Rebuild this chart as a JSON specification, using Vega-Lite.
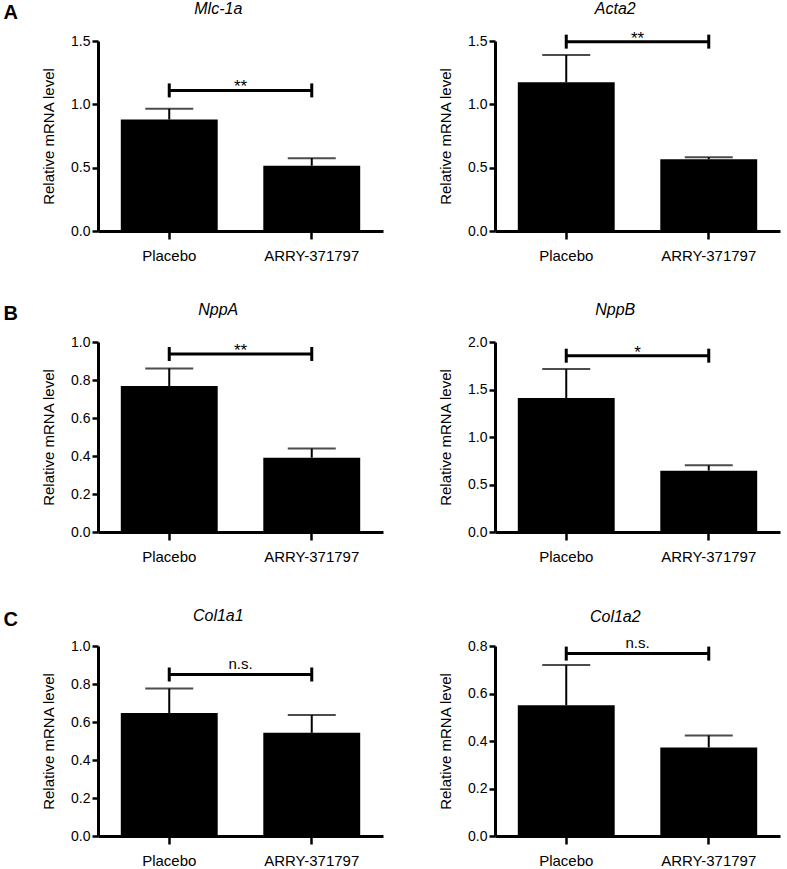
{
  "$schema": "https://vega.github.io/schema/vega-lite/v6.json",
  "background": "white",
  "padding": {"left": 3, "top": 0, "right": 5, "bottom": 0},
  "datasets": {
    "bars": [
      {"gene": "Mlc-1a", "group": "Placebo", "mean": 0.88, "upper": 0.965, "sig": 1.11, "label": "**"},
      {"gene": "Mlc-1a", "group": "ARRY-371797", "mean": 0.515, "upper": 0.575, "sig": 1.11, "label": "**"},
      {"gene": "Acta2", "group": "Placebo", "mean": 1.174, "upper": 1.389, "sig": 1.495, "label": "**"},
      {"gene": "Acta2", "group": "ARRY-371797", "mean": 0.566, "upper": 0.582, "sig": 1.495, "label": "**"},
      {"gene": "NppA", "group": "Placebo", "mean": 0.768, "upper": 0.861, "sig": 0.937, "label": "**"},
      {"gene": "NppA", "group": "ARRY-371797", "mean": 0.391, "upper": 0.439, "sig": 0.937, "label": "**"},
      {"gene": "NppB", "group": "Placebo", "mean": 1.411, "upper": 1.716, "sig": 1.856, "label": "*"},
      {"gene": "NppB", "group": "ARRY-371797", "mean": 0.646, "upper": 0.702, "sig": 1.856, "label": "*"},
      {"gene": "Col1a1", "group": "Placebo", "mean": 0.647, "upper": 0.776, "sig": 0.85, "label": "n.s."},
      {"gene": "Col1a1", "group": "ARRY-371797", "mean": 0.543, "upper": 0.637, "sig": 0.85, "label": "n.s."},
      {"gene": "Col1a2", "group": "Placebo", "mean": 0.551, "upper": 0.72, "sig": 0.768, "label": "n.s."},
      {"gene": "Col1a2", "group": "ARRY-371797", "mean": 0.373, "upper": 0.423, "sig": 0.768, "label": "n.s."}
    ]
  },
  "spacing": 39,
  "vconcat": [
    {
      "title": {"text": "A", "anchor": "start", "frame": "bounds", "fontSize": 20, "fontWeight": "bold", "fontStyle": "normal", "dx": -38, "offset": -22},
      "hconcat": [
        {
          "width": 285, "height": 190,
          "title": {"text": "Mlc-1a", "offset": 17},
          "data": {"name": "bars"},
          "transform": [{"filter": "datum.gene === 'Mlc-1a'"}],
          "layer": [
            {"mark": {"type": "rule", "strokeWidth": 2, "color": "black"},
             "encoding": {"x": {"field": "group", "type": "nominal", "sort": ["Placebo", "ARRY-371797"], "scale": {"paddingInner": 0.32, "paddingOuter": 0.16}, "title": null},
                          "y": {"field": "mean", "type": "quantitative", "title": "Relative mRNA level", "scale": {"domain": [0, 1.5], "nice": false}, "axis": {"values": [0, 0.5, 1, 1.5], "format": ".1f", "labelOverlap": false}},
                          "y2": {"field": "upper"}}},
            {"mark": {"type": "tick", "thickness": 2, "size": 48, "color": "black"},
             "encoding": {"x": {"field": "group", "type": "nominal", "sort": ["Placebo", "ARRY-371797"], "title": null},
                          "y": {"field": "upper", "type": "quantitative", "title": "Relative mRNA level"}}},
            {"mark": {"type": "bar", "color": "black"},
             "encoding": {"x": {"field": "group", "type": "nominal", "sort": ["Placebo", "ARRY-371797"], "title": null},
                          "y": {"field": "mean", "type": "quantitative", "title": "Relative mRNA level"}}},
            {"mark": {"type": "line", "strokeWidth": 3, "color": "black"},
             "encoding": {"x": {"field": "group", "type": "nominal", "sort": ["Placebo", "ARRY-371797"], "title": null},
                          "y": {"field": "sig", "type": "quantitative", "title": "Relative mRNA level"}}},
            {"mark": {"type": "rule", "strokeWidth": 3, "color": "black", "yOffset": -7, "y2Offset": 7},
             "encoding": {"x": {"field": "group", "type": "nominal", "sort": ["Placebo", "ARRY-371797"], "title": null},
                          "y": {"field": "sig", "type": "quantitative", "title": "Relative mRNA level"},
                          "y2": {"field": "sig"}}},
            {"transform": [{"filter": "datum.group === 'Placebo'"}],
             "mark": {"type": "text", "fontSize": 17, "baseline": "alphabetic", "dy": 2, "color": "black", "font": "Liberation Sans"},
             "encoding": {"y": {"field": "sig", "type": "quantitative", "title": "Relative mRNA level"}, "text": {"field": "label"}}}
          ]
        },
        {
          "width": 285, "height": 190,
          "title": {"text": "Acta2", "offset": 13},
          "data": {"name": "bars"},
          "transform": [{"filter": "datum.gene === 'Acta2'"}],
          "layer": [
            {"mark": {"type": "rule", "strokeWidth": 2, "color": "black"},
             "encoding": {"x": {"field": "group", "type": "nominal", "sort": ["Placebo", "ARRY-371797"], "scale": {"paddingInner": 0.32, "paddingOuter": 0.16}, "title": null},
                          "y": {"field": "mean", "type": "quantitative", "title": "Relative mRNA level", "scale": {"domain": [0, 1.5], "nice": false}, "axis": {"values": [0, 0.5, 1, 1.5], "format": ".1f", "labelOverlap": false}},
                          "y2": {"field": "upper"}}},
            {"mark": {"type": "tick", "thickness": 2, "size": 48, "color": "black"},
             "encoding": {"x": {"field": "group", "type": "nominal", "sort": ["Placebo", "ARRY-371797"], "title": null},
                          "y": {"field": "upper", "type": "quantitative", "title": "Relative mRNA level"}}},
            {"mark": {"type": "bar", "color": "black"},
             "encoding": {"x": {"field": "group", "type": "nominal", "sort": ["Placebo", "ARRY-371797"], "title": null},
                          "y": {"field": "mean", "type": "quantitative", "title": "Relative mRNA level"}}},
            {"mark": {"type": "line", "strokeWidth": 3, "color": "black"},
             "encoding": {"x": {"field": "group", "type": "nominal", "sort": ["Placebo", "ARRY-371797"], "title": null},
                          "y": {"field": "sig", "type": "quantitative", "title": "Relative mRNA level"}}},
            {"mark": {"type": "rule", "strokeWidth": 3, "color": "black", "yOffset": -7, "y2Offset": 7},
             "encoding": {"x": {"field": "group", "type": "nominal", "sort": ["Placebo", "ARRY-371797"], "title": null},
                          "y": {"field": "sig", "type": "quantitative", "title": "Relative mRNA level"},
                          "y2": {"field": "sig"}}},
            {"transform": [{"filter": "datum.group === 'Placebo'"}],
             "mark": {"type": "text", "fontSize": 17, "baseline": "alphabetic", "dy": 2, "color": "black", "font": "Liberation Sans"},
             "encoding": {"y": {"field": "sig", "type": "quantitative", "title": "Relative mRNA level"}, "text": {"field": "label"}}}
          ]
        }
      ]
    },
    {
      "spacing": 44,
      "vconcat": [
        {
          "title": {"text": "B", "anchor": "start", "frame": "bounds", "fontSize": 20, "fontWeight": "bold", "fontStyle": "normal", "dx": -38, "offset": -22},
          "hconcat": [
            {
              "width": 285, "height": 190,
              "title": {"text": "NppA", "offset": 17},
              "data": {"name": "bars"},
              "transform": [{"filter": "datum.gene === 'NppA'"}],
              "layer": [
                {"mark": {"type": "rule", "strokeWidth": 2, "color": "black"},
                 "encoding": {"x": {"field": "group", "type": "nominal", "sort": ["Placebo", "ARRY-371797"], "scale": {"paddingInner": 0.32, "paddingOuter": 0.16}, "title": null},
                              "y": {"field": "mean", "type": "quantitative", "title": "Relative mRNA level", "scale": {"domain": [0, 1], "nice": false}, "axis": {"values": [0, 0.2, 0.4, 0.6, 0.8, 1], "format": ".1f", "labelOverlap": false, "tickCount": 6}},
                              "y2": {"field": "upper"}}},
                {"mark": {"type": "tick", "thickness": 2, "size": 48, "color": "black"},
                 "encoding": {"x": {"field": "group", "type": "nominal", "sort": ["Placebo", "ARRY-371797"], "title": null},
                              "y": {"field": "upper", "type": "quantitative", "title": "Relative mRNA level"}}},
                {"mark": {"type": "bar", "color": "black"},
                 "encoding": {"x": {"field": "group", "type": "nominal", "sort": ["Placebo", "ARRY-371797"], "title": null},
                              "y": {"field": "mean", "type": "quantitative", "title": "Relative mRNA level"}}},
                {"mark": {"type": "line", "strokeWidth": 3, "color": "black"},
                 "encoding": {"x": {"field": "group", "type": "nominal", "sort": ["Placebo", "ARRY-371797"], "title": null},
                              "y": {"field": "sig", "type": "quantitative", "title": "Relative mRNA level"}}},
                {"mark": {"type": "rule", "strokeWidth": 3, "color": "black", "yOffset": -7, "y2Offset": 7},
                 "encoding": {"x": {"field": "group", "type": "nominal", "sort": ["Placebo", "ARRY-371797"], "title": null},
                              "y": {"field": "sig", "type": "quantitative", "title": "Relative mRNA level"},
                              "y2": {"field": "sig"}}},
                {"transform": [{"filter": "datum.group === 'Placebo'"}],
                 "mark": {"type": "text", "fontSize": 17, "baseline": "alphabetic", "dy": 2, "color": "black", "font": "Liberation Sans"},
                 "encoding": {"y": {"field": "sig", "type": "quantitative", "title": "Relative mRNA level"}, "text": {"field": "label"}}}
              ]
            },
            {
              "width": 285, "height": 190,
              "title": {"text": "NppB", "offset": 17},
              "data": {"name": "bars"},
              "transform": [{"filter": "datum.gene === 'NppB'"}],
              "layer": [
                {"mark": {"type": "rule", "strokeWidth": 2, "color": "black"},
                 "encoding": {"x": {"field": "group", "type": "nominal", "sort": ["Placebo", "ARRY-371797"], "scale": {"paddingInner": 0.32, "paddingOuter": 0.16}, "title": null},
                              "y": {"field": "mean", "type": "quantitative", "title": "Relative mRNA level", "scale": {"domain": [0, 2], "nice": false}, "axis": {"values": [0, 0.5, 1, 1.5, 2], "format": ".1f", "labelOverlap": false}},
                              "y2": {"field": "upper"}}},
                {"mark": {"type": "tick", "thickness": 2, "size": 48, "color": "black"},
                 "encoding": {"x": {"field": "group", "type": "nominal", "sort": ["Placebo", "ARRY-371797"], "title": null},
                              "y": {"field": "upper", "type": "quantitative", "title": "Relative mRNA level"}}},
                {"mark": {"type": "bar", "color": "black"},
                 "encoding": {"x": {"field": "group", "type": "nominal", "sort": ["Placebo", "ARRY-371797"], "title": null},
                              "y": {"field": "mean", "type": "quantitative", "title": "Relative mRNA level"}}},
                {"mark": {"type": "line", "strokeWidth": 3, "color": "black"},
                 "encoding": {"x": {"field": "group", "type": "nominal", "sort": ["Placebo", "ARRY-371797"], "title": null},
                              "y": {"field": "sig", "type": "quantitative", "title": "Relative mRNA level"}}},
                {"mark": {"type": "rule", "strokeWidth": 3, "color": "black", "yOffset": -7, "y2Offset": 7},
                 "encoding": {"x": {"field": "group", "type": "nominal", "sort": ["Placebo", "ARRY-371797"], "title": null},
                              "y": {"field": "sig", "type": "quantitative", "title": "Relative mRNA level"},
                              "y2": {"field": "sig"}}},
                {"transform": [{"filter": "datum.group === 'Placebo'"}],
                 "mark": {"type": "text", "fontSize": 17, "baseline": "alphabetic", "dy": 2, "color": "black", "font": "Liberation Sans"},
                 "encoding": {"y": {"field": "sig", "type": "quantitative", "title": "Relative mRNA level"}, "text": {"field": "label"}}}
              ]
            }
          ]
        },
        {
          "title": {"text": "C", "anchor": "start", "frame": "bounds", "fontSize": 20, "fontWeight": "bold", "fontStyle": "normal", "dx": -38, "offset": -22},
          "hconcat": [
            {
              "width": 285, "height": 190,
              "title": {"text": "Col1a1", "offset": 15},
              "data": {"name": "bars"},
              "transform": [{"filter": "datum.gene === 'Col1a1'"}],
              "layer": [
                {"mark": {"type": "rule", "strokeWidth": 2, "color": "black"},
                 "encoding": {"x": {"field": "group", "type": "nominal", "sort": ["Placebo", "ARRY-371797"], "scale": {"paddingInner": 0.32, "paddingOuter": 0.16}, "title": null},
                              "y": {"field": "mean", "type": "quantitative", "title": "Relative mRNA level", "scale": {"domain": [0, 1], "nice": false}, "axis": {"values": [0, 0.2, 0.4, 0.6, 0.8, 1], "format": ".1f", "labelOverlap": false, "tickCount": 6}},
                              "y2": {"field": "upper"}}},
                {"mark": {"type": "tick", "thickness": 2, "size": 48, "color": "black"},
                 "encoding": {"x": {"field": "group", "type": "nominal", "sort": ["Placebo", "ARRY-371797"], "title": null},
                              "y": {"field": "upper", "type": "quantitative", "title": "Relative mRNA level"}}},
                {"mark": {"type": "bar", "color": "black"},
                 "encoding": {"x": {"field": "group", "type": "nominal", "sort": ["Placebo", "ARRY-371797"], "title": null},
                              "y": {"field": "mean", "type": "quantitative", "title": "Relative mRNA level"}}},
                {"mark": {"type": "line", "strokeWidth": 3, "color": "black"},
                 "encoding": {"x": {"field": "group", "type": "nominal", "sort": ["Placebo", "ARRY-371797"], "title": null},
                              "y": {"field": "sig", "type": "quantitative", "title": "Relative mRNA level"}}},
                {"mark": {"type": "rule", "strokeWidth": 3, "color": "black", "yOffset": -7, "y2Offset": 7},
                 "encoding": {"x": {"field": "group", "type": "nominal", "sort": ["Placebo", "ARRY-371797"], "title": null},
                              "y": {"field": "sig", "type": "quantitative", "title": "Relative mRNA level"},
                              "y2": {"field": "sig"}}},
                {"transform": [{"filter": "datum.group === 'Placebo'"}],
                 "mark": {"type": "text", "fontSize": 15, "baseline": "alphabetic", "dy": -6, "color": "black", "font": "Liberation Sans"},
                 "encoding": {"y": {"field": "sig", "type": "quantitative", "title": "Relative mRNA level"}, "text": {"field": "label"}}}
              ]
            },
            {
              "width": 285, "height": 190,
              "title": {"text": "Col1a2", "offset": 11},
              "data": {"name": "bars"},
              "transform": [{"filter": "datum.gene === 'Col1a2'"}],
              "layer": [
                {"mark": {"type": "rule", "strokeWidth": 2, "color": "black"},
                 "encoding": {"x": {"field": "group", "type": "nominal", "sort": ["Placebo", "ARRY-371797"], "scale": {"paddingInner": 0.32, "paddingOuter": 0.16}, "title": null},
                              "y": {"field": "mean", "type": "quantitative", "title": "Relative mRNA level", "scale": {"domain": [0, 0.8], "nice": false}, "axis": {"values": [0, 0.2, 0.4, 0.6, 0.8], "format": ".1f", "labelOverlap": false}},
                              "y2": {"field": "upper"}}},
                {"mark": {"type": "tick", "thickness": 2, "size": 48, "color": "black"},
                 "encoding": {"x": {"field": "group", "type": "nominal", "sort": ["Placebo", "ARRY-371797"], "title": null},
                              "y": {"field": "upper", "type": "quantitative", "title": "Relative mRNA level"}}},
                {"mark": {"type": "bar", "color": "black"},
                 "encoding": {"x": {"field": "group", "type": "nominal", "sort": ["Placebo", "ARRY-371797"], "title": null},
                              "y": {"field": "mean", "type": "quantitative", "title": "Relative mRNA level"}}},
                {"mark": {"type": "line", "strokeWidth": 3, "color": "black"},
                 "encoding": {"x": {"field": "group", "type": "nominal", "sort": ["Placebo", "ARRY-371797"], "title": null},
                              "y": {"field": "sig", "type": "quantitative", "title": "Relative mRNA level"}}},
                {"mark": {"type": "rule", "strokeWidth": 3, "color": "black", "yOffset": -7, "y2Offset": 7},
                 "encoding": {"x": {"field": "group", "type": "nominal", "sort": ["Placebo", "ARRY-371797"], "title": null},
                              "y": {"field": "sig", "type": "quantitative", "title": "Relative mRNA level"},
                              "y2": {"field": "sig"}}},
                {"transform": [{"filter": "datum.group === 'Placebo'"}],
                 "mark": {"type": "text", "fontSize": 15, "baseline": "alphabetic", "dy": -6, "color": "black", "font": "Liberation Sans"},
                 "encoding": {"y": {"field": "sig", "type": "quantitative", "title": "Relative mRNA level"}, "text": {"field": "label"}}}
              ]
            }
          ]
        }
      ]
    }
  ],
  "config": {
    "font": "Liberation Sans",
    "view": {"stroke": null},
    "concat": {"spacing": 55},
    "title": {"fontSize": 16, "fontStyle": "italic", "fontWeight": "normal", "color": "black", "font": "Liberation Sans", "offset": 11, "frame": "bounds", "dx": 6},
    "axis": {"grid": false, "domainColor": "black", "domainWidth": 3, "tickColor": "black", "tickWidth": 2.5, "labelColor": "black", "titleColor": "black", "labelFont": "Liberation Sans", "titleFont": "Liberation Sans"},
    "axisX": {"labelAngle": 0, "tickSize": 8, "labelPadding": 9, "labelFontSize": 15},
    "axisY": {"tickSize": 6, "labelPadding": 2, "labelFontSize": 14, "titleFontSize": 15, "titleFontWeight": "normal", "titlePadding": 14, "labelOverlap": false, "labelFlush": false}
  }
}
